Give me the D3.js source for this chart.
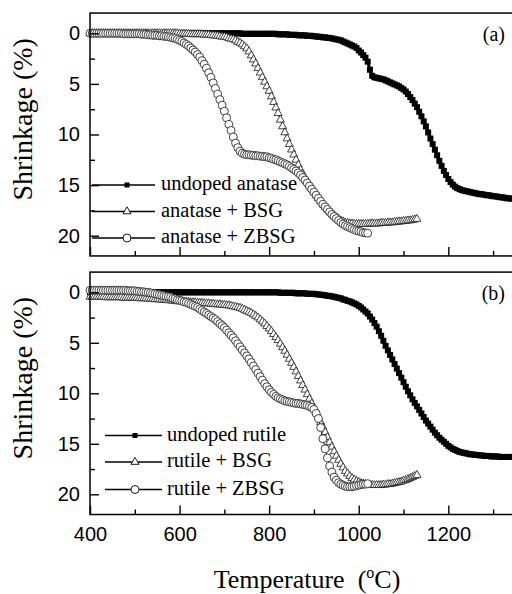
<!DOCTYPE html>
<html>
<head>
<meta charset="utf-8">
<script src="https://cdn.jsdelivr.net/npm/d3@7"></script>
<style>
  body { margin: 0; background: #fff; }
  svg { display: block; }
</style>
</head>
<body>
<svg id="chart" width="512" height="594"></svg>
<script>
// temperature grid of every series: 400, 405, 410 ... (°C)
const T_START = 400;
const T_STEP = 5;

// the 1400 tick lies past the right edge of the picture
const xTicks = [400, 600, 800, 1000, 1200];
const xMinorTicks = [500, 700, 900, 1100, 1300];
const yTicks = [0, 5, 10, 15, 20];
const yMinorTicks = [2.5, 7.5, 12.5, 17.5];

const anataseNames = ['undoped anatase', 'anatase + BSG', 'anatase + ZBSG'];
const rutileNames = ['undoped rutile', 'rutile + BSG', 'rutile + ZBSG'];

// shrinkage (%), 400 -> 1340 °C
const anataseUndoped = [
  0, 0, 0, 0, 0, 0, 0, 0, 0, 0,
  0, 0, 0, 0, 0, 0, 0, 0, 0, 0,
  0, 0, 0, 0, 0, 0, 0, 0, 0, 0,
  0, 0, 0, 0, 0, 0, 0, 0, 0, 0,
  0, 0, 0, 0, 0, 0, 0, 0, 0, 0,
  0, 0, 0, 0, 0, 0, 0, 0, 0, 0,
  0, 0, 0, 0, 0, 0, 0, 0, 0.05, 0.05,
  0.05, 0.05, 0.05, 0.05, 0.05, 0.05, 0.05, 0.05, 0.05, 0.05,
  0.05, 0.05, 0.05, 0.05, 0.1, 0.1, 0.1, 0.1, 0.1, 0.15,
  0.15, 0.15, 0.15, 0.2, 0.2, 0.2, 0.2, 0.25, 0.25, 0.25,
  0.3, 0.3, 0.35, 0.35, 0.4, 0.4, 0.45, 0.45, 0.5, 0.55,
  0.6, 0.65, 0.7, 0.8, 0.9, 1.0, 1.1, 1.2, 1.3, 1.45,
  1.7, 1.9, 2.15, 2.4, 2.8, 3.6, 4.2, 4.35, 4.4, 4.45,
  4.5, 4.55, 4.65, 4.75, 4.85, 4.95, 5.05, 5.15, 5.25, 5.4,
  5.55, 5.75, 6.0, 6.3, 6.6, 6.95, 7.3, 7.75, 8.2, 8.7,
  9.2, 9.8, 10.4, 10.95, 11.5, 12.05, 12.6, 13.1, 13.6, 14.0,
  14.4, 14.7, 14.95, 15.15, 15.3, 15.4, 15.5, 15.55, 15.6, 15.65,
  15.7, 15.75, 15.8, 15.85, 15.9, 15.9, 15.95, 16.0, 16.0, 16.05,
  16.1, 16.1, 16.15, 16.2, 16.2, 16.25, 16.3, 16.3, 16.35
];

// 400 -> 1130 °C
const anataseBSG = [
  0, 0, 0, 0, 0, 0, 0, 0, 0, 0,
  0, 0, 0, 0, 0, 0, 0, 0, 0, 0,
  0, 0, 0, 0, 0, 0, 0, 0, 0, 0,
  0, 0, 0, 0, 0, 0, 0, 0, 0, 0,
  0.05, 0.05, 0.05, 0.05, 0.05, 0.1, 0.1, 0.1, 0.1, 0.1,
  0.1, 0.15, 0.15, 0.15, 0.2, 0.2, 0.25, 0.25, 0.3, 0.35,
  0.35, 0.4, 0.5, 0.55, 0.6, 0.7, 0.85, 0.95, 1.1, 1.3,
  1.5, 1.8, 2.2, 2.6, 3.0, 3.45, 3.9, 4.35, 4.8, 5.25,
  5.7, 6.25, 6.8, 7.35, 7.9, 8.55, 9.2, 9.8, 10.4, 10.95,
  11.5, 12.0, 12.5, 13.0, 13.5, 13.9, 14.3, 14.65, 15.0, 15.35,
  15.7, 16.0, 16.3, 16.6, 16.9, 17.15, 17.4, 17.6, 17.8, 18.0,
  18.2, 18.35, 18.5, 18.6, 18.7, 18.75, 18.8, 18.8, 18.85, 18.85,
  18.85, 18.85, 18.85, 18.85, 18.85, 18.8, 18.8, 18.8, 18.8, 18.8,
  18.75, 18.75, 18.75, 18.7, 18.7, 18.7, 18.65, 18.65, 18.6, 18.6,
  18.55, 18.55, 18.5, 18.5, 18.45, 18.4, 18.35
];

// 400 -> 1020 °C
const anataseZBSG = [
  0, 0, 0, 0, 0, 0, 0, 0, 0, 0,
  0, 0, 0, 0, 0, 0.05, 0.05, 0.05, 0.05, 0.05,
  0.05, 0.05, 0.05, 0.1, 0.1, 0.1, 0.15, 0.15, 0.2, 0.2,
  0.2, 0.25, 0.25, 0.3, 0.3, 0.35, 0.4, 0.45, 0.5, 0.6,
  0.7, 0.8, 0.95, 1.1, 1.25, 1.45, 1.65, 1.85, 2.1, 2.35,
  2.7, 3.05, 3.45, 3.9, 4.35, 4.9, 5.45, 6.0, 6.55, 7.1,
  7.7, 8.35, 9.0, 9.6, 10.25, 10.85, 11.3, 11.65, 11.85, 11.95,
  12.0, 12.0, 12.05, 12.05, 12.1, 12.1, 12.15, 12.15, 12.2, 12.2,
  12.3, 12.35, 12.45, 12.5, 12.6, 12.7, 12.8, 12.9, 13.0, 13.15,
  13.3, 13.45, 13.6, 13.8, 14.0, 14.25, 14.5, 14.8, 15.1, 15.4,
  15.7, 16.0, 16.3, 16.6, 16.9, 17.15, 17.4, 17.65, 17.9, 18.1,
  18.3, 18.5, 18.7, 18.85, 19.0, 19.1, 19.2, 19.3, 19.4, 19.5,
  19.55, 19.6, 19.7, 19.72, 19.75
];

// 400 -> 1340 °C
const rutileUndoped = [
  0, 0, 0, 0, 0, 0, 0, 0, 0, 0,
  0, 0, 0, 0, 0, 0, 0, 0, 0, 0,
  0, 0, 0, 0, 0, 0, 0, 0, 0, 0,
  0, 0, 0, 0, 0, 0, 0, 0, 0, 0,
  0, 0, 0, 0, 0, 0, 0, 0, 0, 0,
  0, 0, 0, 0, 0, 0, 0, 0, 0, 0,
  0, 0, 0, 0, 0, 0, 0, 0, 0, 0,
  0, 0, 0, 0, 0, 0, 0, 0, 0, 0,
  0, 0, 0, 0, 0, 0.05, 0.05, 0.05, 0.05, 0.05,
  0.05, 0.05, 0.1, 0.1, 0.1, 0.1, 0.1, 0.15, 0.15, 0.15,
  0.15, 0.2, 0.2, 0.25, 0.25, 0.3, 0.35, 0.35, 0.4, 0.45,
  0.5, 0.55, 0.6, 0.7, 0.75, 0.85, 0.9, 1.0, 1.1, 1.2,
  1.35, 1.5, 1.7, 1.9, 2.1, 2.4, 2.7, 3.05, 3.4, 3.85,
  4.3, 4.8, 5.3, 5.75, 6.2, 6.65, 7.1, 7.55, 8.0, 8.45,
  8.9, 9.35, 9.8, 10.2, 10.6, 10.95, 11.3, 11.65, 12.0, 12.35,
  12.7, 13.0, 13.3, 13.6, 13.9, 14.15, 14.4, 14.6, 14.8, 15.0,
  15.2, 15.35, 15.5, 15.6, 15.7, 15.8, 15.85, 15.9, 15.95, 16.0,
  16.05, 16.05, 16.1, 16.1, 16.15, 16.15, 16.2, 16.2, 16.2, 16.25,
  16.25, 16.25, 16.25, 16.3, 16.3, 16.3, 16.3, 16.3, 16.3
];

// 400 -> 1130 °C
const rutileBSG = [
  0.45, 0.45, 0.45, 0.45, 0.45, 0.45, 0.45, 0.5, 0.5, 0.5,
  0.5, 0.5, 0.5, 0.5, 0.5, 0.55, 0.55, 0.55, 0.55, 0.55,
  0.55, 0.55, 0.6, 0.6, 0.6, 0.6, 0.65, 0.65, 0.65, 0.7,
  0.7, 0.7, 0.75, 0.75, 0.75, 0.8, 0.8, 0.85, 0.85, 0.9,
  0.9, 0.9, 0.95, 0.95, 0.95, 1.0, 1.0, 1.0, 1.05, 1.05,
  1.05, 1.1, 1.1, 1.1, 1.15, 1.15, 1.2, 1.2, 1.2, 1.25,
  1.25, 1.3, 1.3, 1.35, 1.4, 1.45, 1.5, 1.55, 1.65, 1.75,
  1.85, 1.95, 2.05, 2.2, 2.35, 2.5, 2.7, 2.9, 3.1, 3.35,
  3.6, 3.85, 4.15, 4.45, 4.75, 5.1, 5.45, 5.8, 6.2, 6.6,
  7.0, 7.4, 7.85, 8.3, 8.75, 9.2, 9.65, 10.1, 10.55, 11.0,
  11.45, 11.9, 12.35, 12.85, 13.35, 13.85, 14.35, 14.85, 15.3, 15.75,
  16.2, 16.6, 17.0, 17.35, 17.7, 17.95, 18.2, 18.4, 18.55, 18.7,
  18.8, 18.9, 18.95, 19.0, 19.05, 19.1, 19.1, 19.1, 19.1, 19.1,
  19.1, 19.05, 19.05, 19.0, 19.0, 18.95, 18.9, 18.85, 18.8, 18.75,
  18.65, 18.6, 18.5, 18.4, 18.3, 18.2, 18.1
];

// 400 -> 1020 °C
const rutileZBSG = [
  -0.2, -0.2, -0.2, -0.2, -0.2, -0.2, -0.2, -0.2, -0.2, -0.2,
  -0.2, -0.2, -0.2, -0.2, -0.2, -0.2, -0.2, -0.15, -0.15, -0.15,
  -0.15, -0.1, -0.1, -0.05, -0.05, 0, 0, 0.05, 0.1, 0.15,
  0.2, 0.25, 0.3, 0.35, 0.4, 0.45, 0.5, 0.6, 0.65, 0.75,
  0.8, 0.85, 0.95, 1.0, 1.1, 1.2, 1.3, 1.4, 1.5, 1.65,
  1.8, 1.95, 2.1, 2.25, 2.4, 2.55, 2.7, 2.9, 3.1, 3.3,
  3.5, 3.75, 4.0, 4.25, 4.5, 4.8, 5.1, 5.4, 5.7, 6.0,
  6.3, 6.6, 6.95, 7.3, 7.65, 8.0, 8.35, 8.7, 9.05, 9.35,
  9.65, 9.9, 10.1, 10.3, 10.45, 10.55, 10.65, 10.75, 10.8, 10.85,
  10.9, 10.95, 11.0, 11.0, 11.05, 11.1, 11.15, 11.2, 11.3, 11.4,
  11.6, 12.0, 12.5, 13.4, 14.5, 15.5, 16.4, 17.2, 17.8, 18.3,
  18.6, 18.85, 19.0, 19.1, 19.2, 19.25, 19.25, 19.25, 19.2, 19.15,
  19.1, 19.05, 19.0, 19.0, 18.95
];

const svg = d3.select('#chart');
const serif = '"Liberation Serif", "Times New Roman", serif';
const sans = '"Liberation Sans", Arial, sans-serif';

const x = d3.scaleLinear().domain([400, 1400]).range([90, 537.9]);

const symbols = [
  {type: d3.symbolSquare, size: 36, fill: '#000'},
  {type: d3.symbolTriangle, size: 28, fill: '#fff'},
  {type: d3.symbolCircle, size: 50, fill: '#fff'}
];

const panels = [
  {top: 13.06, bottom: 255.94, label: '(a)', names: anataseNames,
    series: [anataseUndoped, anataseBSG, anataseZBSG],
    legendX: [92, 155, 127, 161], legendY: [185, 211.5, 238], xLabels: false},
  {top: 272.1, bottom: 514.5, label: '(b)', names: rutileNames,
    series: [rutileUndoped, rutileBSG, rutileZBSG],
    legendX: [105, 162, 135, 167], legendY: [435.5, 462, 489.5], xLabels: true}
];

function toPoints (values) {
  return values.map((v, i) => [T_START + i * T_STEP, v]);
}

panels.forEach(p => {
  const y = d3.scaleLinear().domain([-2, 22]).range([p.top, p.bottom]);
  const g = svg.append('g');

  // curves: thin line, markers on top
  p.series.forEach((values, k) => {
    const pts = toPoints(values);
    const sym = symbols[k];
    g.append('path')
      .datum(pts)
      .attr('fill', 'none')
      .attr('stroke', '#000')
      .attr('stroke-width', k === 0 ? 3 : 0.9)
      .attr('d', d3.line().x(d => x(d[0])).y(d => y(d[1])));
    g.append('g')
      .selectAll('path')
      .data(pts)
      .join('path')
      .attr('d', d3.symbol().type(sym.type).size(sym.size))
      .attr('transform', d => `translate(${x(d[0])},${y(d[1])})`)
      .attr('fill', sym.fill)
      .attr('stroke', k === 0 ? 'none' : '#222')
      .attr('stroke-width', 0.85);
  });

  // frame
  g.append('rect')
    .attr('x', x(400))
    .attr('y', p.top)
    .attr('width', x(1400) - x(400) + 20)
    .attr('height', p.bottom - p.top)
    .attr('fill', 'none')
    .attr('stroke', '#000')
    .attr('stroke-width', 1.5);

  // inward ticks
  g.append('g')
    .attr('transform', `translate(0,${p.bottom})`)
    .call(d3.axisBottom(x).tickValues(xTicks).tickSize(-9).tickPadding(12)
      .tickFormat(p.xLabels ? d3.format('d') : ''));
  g.append('g')
    .attr('transform', `translate(0,${p.bottom})`)
    .call(d3.axisBottom(x).tickValues(xMinorTicks).tickSize(-5).tickFormat(''));
  g.append('g')
    .attr('transform', `translate(${x(400)},0)`)
    .call(d3.axisLeft(y).tickValues(yTicks).tickSize(-9).tickPadding(10));
  g.append('g')
    .attr('transform', `translate(${x(400)},0)`)
    .call(d3.axisLeft(y).tickValues(yMinorTicks).tickSize(-5).tickFormat(''));
  g.selectAll('.domain').remove();
  g.selectAll('.tick line').attr('stroke', '#000').attr('stroke-width', 1.4);
  g.selectAll('.tick text')
    .attr('font-family', sans)
    .attr('font-size', 20)
    .attr('fill', '#000');

  g.append('text')
    .attr('x', 505)
    .attr('y', p.top + 28)
    .attr('text-anchor', 'end')
    .attr('font-family', serif)
    .attr('font-size', 20)
    .text(p.label);

  g.append('text')
    .attr('transform', `translate(32,${(y(0) + y(17)) / 2}) rotate(-90)`)
    .attr('text-anchor', 'middle')
    .attr('font-family', serif)
    .attr('font-size', 28)
    .text('Shrinkage (%)');

  // legend
  const [lx0, lx1, mx, tx] = p.legendX;
  p.names.forEach((name, k) => {
    const ly = p.legendY[k];
    const sym = symbols[k];
    g.append('line')
      .attr('x1', lx0).attr('x2', lx1)
      .attr('y1', ly).attr('y2', ly)
      .attr('stroke', '#000')
      .attr('stroke-width', 1.3);
    g.append('path')
      .attr('d', d3.symbol().type(sym.type).size(k === 0 ? 25 : sym.size)())
      .attr('transform', `translate(${mx},${ly})`)
      .attr('fill', sym.fill)
      .attr('stroke', k === 0 ? 'none' : '#000')
      .attr('stroke-width', 0.9);
    g.append('text')
      .attr('x', tx)
      .attr('y', ly + 5)
      .attr('font-family', serif)
      .attr('font-size', 20.5)
      .text(name);
  });
});

const title = svg.append('text')
  .attr('x', 307)
  .attr('y', 588)
  .attr('text-anchor', 'middle')
  .attr('font-family', serif)
  .attr('font-size', 26)
  .style('white-space', 'pre');
title.append('tspan').text('Temperature  (');
title.append('tspan').attr('font-size', 16).attr('dy', -10).text('o');
title.append('tspan').attr('dy', 10).text('C)');
</script>
</body>
</html>
